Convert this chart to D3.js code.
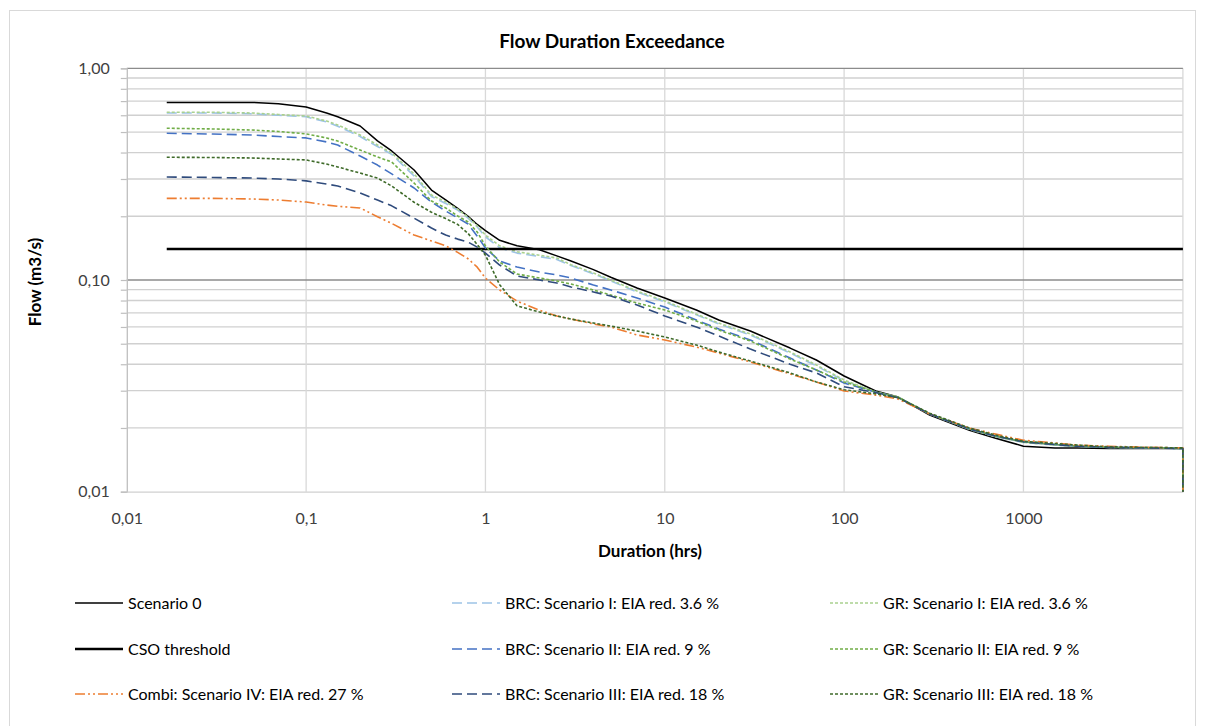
<!DOCTYPE html>
<html><head><meta charset="utf-8">
<script src="https://cdn.jsdelivr.net/npm/d3@7"></script>
<style>body{margin:0;background:#fff;} text{font-family:Lato,"Open Sans",sans-serif;}</style>
</head><body>
<svg id="chart" width="1213" height="726"></svg>
<script>
// ---- data ----
const durations = [0.0167,0.03,0.05,0.07,0.1,0.13,0.15,0.2,0.25,0.3,0.4,0.5,0.6,0.7,0.8,0.9,1,1.2,1.5,2,2.5,3,4,5,7,10,15,20,30,50,70,100,150,200,300,500,700,1000,1500,2000,3000,5000,7750,7750];
const scenario0 = [0.69,0.69,0.69,0.68,0.656,0.615,0.59,0.534,0.454,0.407,0.331,0.266,0.239,0.218,0.200,0.183,0.171,0.154,0.145,0.139,0.130,0.123,0.112,0.103,0.0916,0.0822,0.0722,0.0647,0.0574,0.0477,0.0419,0.0352,0.0299,0.028,0.023,0.0195,0.0179,0.0164,0.0161,0.0161,0.016,0.016,0.016,0.01];
const brcI = [0.615,0.615,0.61,0.60,0.59,0.558,0.533,0.476,0.427,0.392,0.310,0.248,0.230,0.214,0.196,0.178,0.160,0.142,0.134,0.129,0.125,0.117,0.107,0.099,0.0878,0.0788,0.0685,0.0620,0.0550,0.0452,0.0393,0.0334,0.0295,0.0279,0.0233,0.0197,0.0182,0.0171,0.0166,0.0164,0.0162,0.0161,0.016,0.01];
const grI = [0.62,0.62,0.615,0.605,0.595,0.564,0.540,0.484,0.434,0.398,0.317,0.252,0.234,0.216,0.198,0.180,0.163,0.145,0.136,0.131,0.127,0.118,0.108,0.100,0.0887,0.0796,0.069,0.0626,0.0556,0.0457,0.0397,0.0337,0.0296,0.028,0.0233,0.0197,0.0182,0.0171,0.0166,0.0164,0.0162,0.0161,0.016,0.01];
const csoThreshold = 0.14;
const brcII = [0.493,0.489,0.484,0.476,0.469,0.449,0.434,0.385,0.349,0.317,0.272,0.2335,0.2118,0.1963,0.1838,0.161,0.1417,0.123,0.1151,0.109,0.1056,0.1022,0.0947,0.0897,0.0822,0.0745,0.0647,0.0587,0.0521,0.0428,0.0376,0.0326,0.0295,0.0279,0.0233,0.0198,0.0183,0.0172,0.0167,0.0164,0.0162,0.0161,0.016,0.01];
const grII = [0.521,0.517,0.511,0.503,0.490,0.469,0.453,0.411,0.381,0.361,0.287,0.236,0.219,0.2006,0.188,0.1685,0.145,0.1216,0.1067,0.1022,0.0989,0.0957,0.0897,0.0849,0.0778,0.0722,0.064,0.058,0.0515,0.0423,0.0376,0.033,0.0296,0.028,0.0233,0.0198,0.0183,0.0172,0.0167,0.0164,0.0162,0.0161,0.016,0.01];
const combiIV = [0.243,0.243,0.2413,0.2387,0.2335,0.226,0.223,0.219,0.199,0.185,0.163,0.153,0.145,0.135,0.126,0.115,0.102,0.0897,0.0795,0.0720,0.0676,0.0654,0.062,0.060,0.055,0.0521,0.0482,0.0452,0.041,0.036,0.033,0.0299,0.0286,0.0274,0.0233,0.020,0.0187,0.0175,0.017,0.0166,0.0164,0.0162,0.0161,0.01];
const brcIII = [0.3066,0.305,0.303,0.300,0.294,0.284,0.278,0.2576,0.2387,0.224,0.196,0.176,0.163,0.156,0.151,0.143,0.134,0.1177,0.1044,0.100,0.0968,0.0927,0.0878,0.084,0.0762,0.0676,0.060,0.0544,0.0472,0.040,0.0364,0.0313,0.0294,0.0278,0.0233,0.0198,0.0183,0.0172,0.0167,0.0164,0.0162,0.0161,0.016,0.01];
const grIII = [0.380,0.379,0.377,0.373,0.369,0.353,0.342,0.320,0.303,0.278,0.233,0.209,0.195,0.183,0.166,0.147,0.131,0.095,0.0755,0.0706,0.0676,0.0654,0.0626,0.0606,0.0574,0.0538,0.0493,0.0457,0.0414,0.0364,0.033,0.0303,0.029,0.0278,0.0235,0.020,0.0185,0.0173,0.0169,0.0166,0.0163,0.0162,0.0161,0.01];

const xTickValues = [0.01,0.1,1,10,100,1000];
const xTickLabels = ["0,01","0,1","1","10","100","1000"];
const yTickValues = [0.01,0.1,1];
const yTickLabels = ["0,01","0,10","1,00"];
const seriesNames = ["Scenario 0","BRC: Scenario I: EIA red. 3.6 %","GR: Scenario I: EIA red. 3.6 %","CSO threshold","BRC: Scenario II: EIA red. 9 %","GR: Scenario II: EIA red. 9 %","Combi: Scenario IV: EIA red. 27 %","BRC: Scenario III: EIA red. 18 %","GR: Scenario III: EIA red. 18 %"];

// ---- styles ----
const styles = [
  {color:"#000000", w:1.5, dash:null},
  {color:"#9DC3E6", w:1.6, dash:"10,5"},
  {color:"#A9D18E", w:1.6, dash:"3,2"},
  {color:"#000000", w:2.6, dash:null},
  {color:"#4472C4", w:1.6, dash:"10,5"},
  {color:"#70AD47", w:1.6, dash:"3,2"},
  {color:"#ED7D31", w:1.6, dash:"10,3,2,3,2,3"},
  {color:"#2F4B7C", w:1.6, dash:"10,5"},
  {color:"#3F6B2A", w:1.6, dash:"3,2"}
];
const seriesValues = [scenario0, brcI, grI, null, brcII, grII, combiIV, brcIII, grIII];

const svg = d3.select("#chart");
svg.append("rect").attr("x",9.5).attr("y",10.5).attr("width",1186).attr("height",740)
  .attr("fill","#fff").attr("stroke","#d9d9d9");

const x = d3.scaleLog().domain([0.01, 7750]).range([126.8, 1182.9]);
const y = d3.scaleLog().domain([0.01, 1]).range([491.7, 68.3]);

// minor y grid
const yMinor = [];
[0.01,0.1].forEach(b=>{for(let k=2;k<=9;k++) yMinor.push(b*k);});
svg.append("g").selectAll("line").data(yMinor).join("line")
  .attr("x1",x.range()[0]).attr("x2",x.range()[1])
  .attr("y1",d=>y(d)).attr("y2",d=>y(d)).attr("stroke","#d0d0d0").attr("stroke-width",1.3);
// vertical grid
svg.append("g").selectAll("line").data(xTickValues.slice(1).concat([7750])).join("line")
  .attr("x1",d=>x(d)).attr("x2",d=>x(d)).attr("y1",y(1)).attr("y2",y(0.01))
  .attr("stroke","#d9d9d9").attr("stroke-width",1.3);
// major y grid
svg.append("g").selectAll("line").data([0.1,1]).join("line")
  .attr("x1",x.range()[0]).attr("x2",x.range()[1])
  .attr("y1",d=>y(d)).attr("y2",d=>y(d)).attr("stroke","#8c8c8c").attr("stroke-width",1.3);

// y axis with ticks
const yAxis = d3.axisLeft(y).tickValues(yTickValues.concat(yMinor))
  .tickSize(6).tickFormat(d=>{const i=yTickValues.indexOf(d);return i>=0?yTickLabels[i]:"";});
const gy = svg.append("g").attr("transform",`translate(${x.range()[0]},0)`).call(yAxis);
gy.select(".domain").attr("stroke","#bfbfbf").attr("stroke-width",1.3);
gy.selectAll(".tick line").attr("stroke","#bfbfbf").attr("stroke-width",1.2);
gy.selectAll(".tick text").attr("font-size",16).attr("fill","#404040").attr("x",-17).style("font-family","Lato,sans-serif");

// x axis
const xAxis = d3.axisBottom(x).tickValues(xTickValues).tickSize(0)
  .tickFormat((d,i)=>xTickLabels[i]);
const gx = svg.append("g").attr("transform",`translate(0,${y.range()[0]})`).call(xAxis);
gx.select(".domain").attr("stroke","#d0d0d0").attr("stroke-width",1.3);
gx.selectAll(".tick text").attr("font-size",16).attr("fill","#404040").attr("dy","1.85em").style("font-family","Lato,sans-serif");

// lines
const line = d3.line().x(d=>x(d[0])).y(d=>y(d[1]));
seriesValues.forEach((vals,i)=>{
  const st = styles[i];
  const pts = vals ? durations.map((d,j)=>[d,vals[j]]) : [[durations[0],csoThreshold],[durations[durations.length-1],csoThreshold]];
  svg.append("path").datum(pts).attr("d",line).attr("fill","none")
    .attr("stroke",st.color).attr("stroke-width",st.w)
    .attr("stroke-dasharray",st.dash).attr("stroke-linejoin","round");
});

// titles
svg.append("text").attr("x",612).attr("y",48).attr("text-anchor","middle")
  .attr("font-size",19).attr("font-weight","bold").attr("fill","#000").text("Flow Duration Exceedance");
svg.append("text").attr("x",650).attr("y",557).attr("text-anchor","middle")
  .attr("font-size",17).attr("font-weight","bold").attr("fill","#000").text("Duration (hrs)");
svg.append("text").attr("transform","translate(41,282) rotate(-90)").attr("text-anchor","middle")
  .attr("font-size",17).attr("font-weight","bold").attr("fill","#000").text("Flow (m3/s)");

// legend
const colX = [75, 452, 830];
const rowY = [603, 649, 694];
seriesNames.forEach((name,i)=>{
  const st = styles[i];
  const cx = colX[i%3], cy = rowY[Math.floor(i/3)];
  const g = svg.append("g");
  g.append("line").attr("x1",cx).attr("x2",cx+48).attr("y1",cy).attr("y2",cy)
    .attr("stroke",st.color).attr("stroke-width",st.w).attr("stroke-dasharray",st.dash);
  g.append("text").attr("x",cx+53).attr("y",cy+6).attr("font-size",16).attr("fill","#000").text(name);
});
</script>
</body></html>
